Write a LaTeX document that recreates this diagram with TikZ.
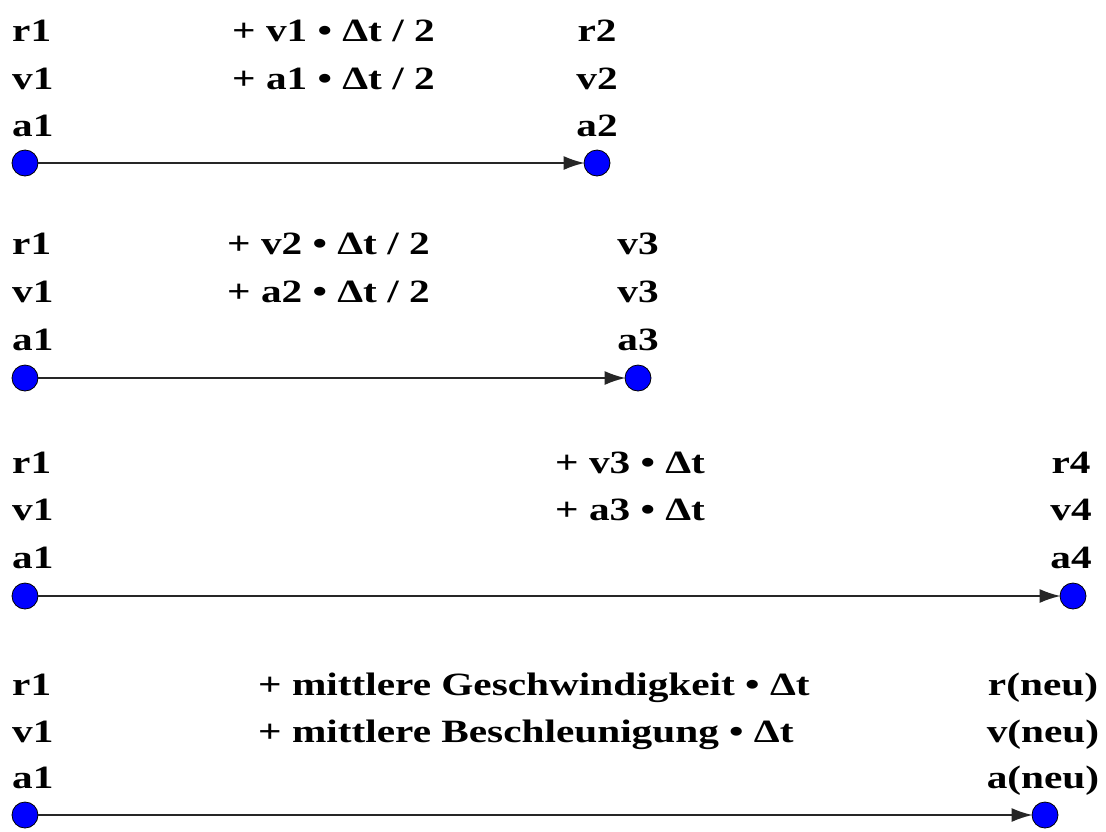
\documentclass[tikz,border=0pt]{standalone}
\usepackage{fontspec}
\setmainfont{Liberation Serif}[FakeStretch=1.27]
\usetikzlibrary{arrows.meta}
\tikzset{
  lbl/.style={inner sep=0pt, font=\fontsize{32.5}{36}\selectfont\bfseries, text=black},
  lft/.style={lbl, anchor=base west},
  rgt/.style={lbl, anchor=base},
  dot/.style={circle, draw=black, line width=0.8pt, fill={rgb,255:red,0;green,0;blue,255}, minimum size=26pt, inner sep=0pt},
  arr/.style={draw=black!85, line width=1.8pt, -{Latex[length=21pt,width=14pt]}, shorten >=-1pt}
}
\begin{document}
\begin{tikzpicture}[x=1pt,y=-1pt]
\useasboundingbox (0,0) rectangle (1106,831);
% group 1
\node[lft] (g1r) at (12,41) {r1};
\node[lft] (g1v) at (12,89) {v1};
\node[lft] (g1a) at (12,136) {a1};
\node[lft] (g1m1) at (232,41) {+ v1 • Δt / 2};
\node[lft] (g1m2) at (232,89) {+ a1 • Δt / 2};
\node[rgt] (g1rr) at (597,41) {r2};
\node[rgt] (g1rv) at (597,89) {v2};
\node[rgt] (g1ra) at (597,136) {a2};
\node[dot] (g1s) at (25,163) {};
\node[dot] (g1e) at (597,163) {};
\draw[arr] (g1s) -- (g1e);
% group 2
\node[lft] (g2r) at (12,254) {r1};
\node[lft] (g2v) at (12,302) {v1};
\node[lft] (g2a) at (12,350) {a1};
\node[lft] (g2m1) at (227,254) {+ v2 • Δt / 2};
\node[lft] (g2m2) at (227,302) {+ a2 • Δt / 2};
\node[rgt] (g2rr) at (638,254) {v3};
\node[rgt] (g2rv) at (638,302) {v3};
\node[rgt] (g2ra) at (638,350) {a3};
\node[dot] (g2s) at (25,378) {};
\node[dot] (g2e) at (638,378) {};
\draw[arr] (g2s) -- (g2e);
% group 3
\node[lft] (g3r) at (12,473) {r1};
\node[lft] (g3v) at (12,520) {v1};
\node[lft] (g3a) at (12,568) {a1};
\node[lft] (g3m1) at (555,473) {+ v3 • Δt};
\node[lft] (g3m2) at (555,520) {+ a3 • Δt};
\node[rgt] (g3rr) at (1071,473) {r4};
\node[rgt] (g3rv) at (1071,520) {v4};
\node[rgt] (g3ra) at (1071,568) {a4};
\node[dot] (g3s) at (25,596) {};
\node[dot] (g3e) at (1073,596) {};
\draw[arr] (g3s) -- (g3e);
% group 4
\node[lft] (g4r) at (12,695) {r1};
\node[lft] (g4v) at (12,742) {v1};
\node[lft] (g4a) at (12,788) {a1};
\node[lft] (g4m1) at (258,695) {+ mittlere Geschwindigkeit • Δt};
\node[lft] (g4m2) at (258,742) {+ mittlere Beschleunigung • Δt};
\node[rgt] (g4rr) at (1043,695) {r(neu)};
\node[rgt] (g4rv) at (1043,742) {v(neu)};
\node[rgt] (g4ra) at (1043,788) {a(neu)};
\node[dot] (g4s) at (25,815) {};
\node[dot] (g4e) at (1045,815) {};
\draw[arr] (g4s) -- (g4e);
\end{tikzpicture}
\end{document}
